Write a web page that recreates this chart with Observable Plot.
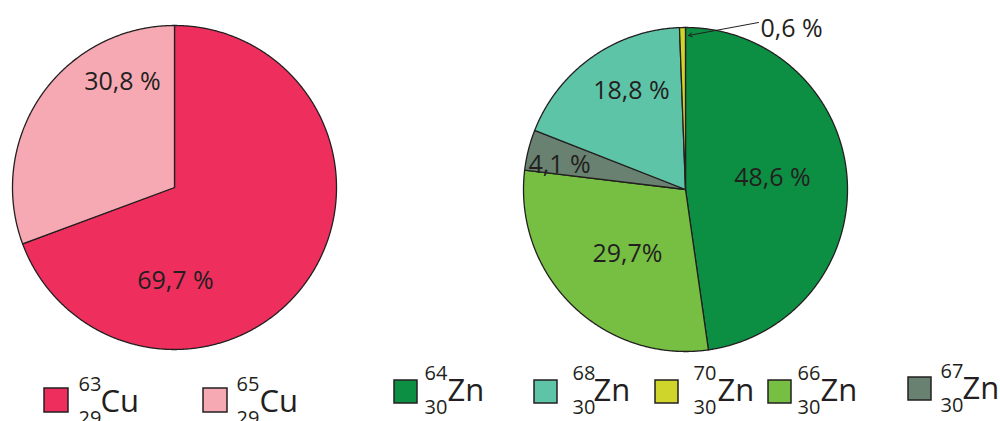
<!DOCTYPE html>
<html>
<head>
<meta charset="utf-8">
<script src="https://cdn.jsdelivr.net/npm/d3@7"></script>
<script src="https://cdn.jsdelivr.net/npm/@observablehq/plot@0.6"></script>
<style>
  html, body { margin: 0; padding: 0; background: #fff; }
  #chart { width: 1000px; height: 421px; overflow: hidden; }
</style>
</head>
<body>
<div id="chart"></div>
<script>
// ---------- data ----------
const cuIsotopes = ["63Cu", "65Cu"];
const cuValues = [69.7, 30.8];
const cuLabels = ["69,7 %", "30,8 %"];

const znIsotopes = ["64Zn", "66Zn", "67Zn", "68Zn", "70Zn"];
const znValues = [48.6, 29.7, 4.1, 18.8, 0.6];
const znLabels = ["48,6 %", "29,7%", "4,1 %", "18,8 %", "0,6 %"];

const legendKeys = ["63Cu", "65Cu", "64Zn", "68Zn", "70Zn", "66Zn", "67Zn"];
const legendMass = ["63", "65", "64", "68", "70", "66", "67"];
const legendZ = ["29", "29", "30", "30", "30", "30", "30"];
const legendSymbol = ["Cu", "Cu", "Zn", "Zn", "Zn", "Zn", "Zn"];

const colorDomain = ["63Cu", "65Cu", "64Zn", "68Zn", "70Zn", "66Zn", "67Zn"];
const colorRange = ["#ee2f5e", "#f6a9b3", "#0d8f43", "#5ec4a8", "#cfd52a", "#76bf43", "#688170"];

// ---------- layout ----------
const ink = "#231f20";
const font = "Open Sans";
const cuPie = {cx: 174, cy: 187, r: 162};
const znPie = {cx: 685, cy: 189, r: 162};
const cuLabelOffsets = [[1, 93], [-52, -106]];
const znLabelOffsets = [[87, -12], [-58, 64], [-126, -25], [-54, -99], [75, -161]];
const leader = {x1: 758, y1: 22, x2: 688, y2: 35};
// legend: square left x, square top y, superscript x, symbol x, baseline y
const legendLayout = [
  {sqX: 44, sqY: 388, size: 24, supX: 78, symX: 100, base: 411},
  {sqX: 203, sqY: 388, size: 24, supX: 236, symX: 259, base: 411},
  {sqX: 394, sqY: 380, size: 23, supX: 424, symX: 447, base: 400},
  {sqX: 534, sqY: 380, size: 23, supX: 572, symX: 593, base: 400},
  {sqX: 655, sqY: 380, size: 23, supX: 693, symX: 717, base: 400},
  {sqX: 768, sqY: 380, size: 23, supX: 797, symX: 820, base: 400},
  {sqX: 908, sqY: 377, size: 23, supX: 940, symX: 962, base: 398}
];

// ---------- geometry from values ----------
const pie = d3.pie().sort(null).startAngle(0).endAngle(2 * Math.PI);
function slicePolygons(keys, values, p) {
  const pts = [];
  pie(values).forEach((a, i) => {
    const key = keys[i];
    pts.push({key, x: p.cx, y: p.cy});
    const n = Math.max(2, Math.ceil((a.endAngle - a.startAngle) / 0.005));
    for (let k = 0; k <= n; k++) {
      const t = a.startAngle + (a.endAngle - a.startAngle) * k / n;
      pts.push({key, x: p.cx + p.r * Math.sin(t), y: p.cy - p.r * Math.cos(t)});
    }
  });
  return pts;
}
const polys = [...slicePolygons(cuIsotopes, cuValues, cuPie), ...slicePolygons(znIsotopes, znValues, znPie)];

const labels = [
  ...cuLabels.map((t, i) => ({text: t, x: cuPie.cx + cuLabelOffsets[i][0], y: cuPie.cy + cuLabelOffsets[i][1], anchor: "middle"})),
  ...znLabels.map((t, i) => ({text: t, x: znPie.cx + znLabelOffsets[i][0], y: znPie.cy + znLabelOffsets[i][1], anchor: i === 4 ? "start" : "middle"}))
];

const legend = legendKeys.map((k, i) => ({key: k, mass: legendMass[i], z: legendZ[i], symbol: legendSymbol[i], ...legendLayout[i]}));

const chart = Plot.plot({
  width: 1000,
  height: 421,
  margin: 0,
  x: {domain: [0, 1000], range: [0, 1000], axis: null},
  y: {domain: [0, 421], range: [0, 421], axis: null},
  color: {domain: colorDomain, range: colorRange},
  style: {background: "white", fontFamily: font},
  marks: [
    Plot.line(polys, {x: "x", y: "y", z: "key", fill: "key", stroke: ink, strokeWidth: 1.3, curve: "linear-closed", strokeLinejoin: "round"}),
    Plot.arrow([leader], {x1: "x1", y1: "y1", x2: "x2", y2: "y2", stroke: ink, strokeWidth: 1, headLength: 6}),
    Plot.text(labels.filter(d => d.anchor === "middle"), {x: "x", y: "y", text: "text", fill: ink, fontSize: 25, textAnchor: "middle", lineAnchor: "middle", fontFamily: font}),
    Plot.text(labels.filter(d => d.anchor === "start"), {x: "x", y: "y", text: "text", fill: ink, fontSize: 25, textAnchor: "start", lineAnchor: "middle", fontFamily: font}),
    // legend squares
    Plot.rect(legend, {x1: "sqX", x2: d => d.sqX + d.size, y1: "sqY", y2: d => d.sqY + d.size, fill: "key", stroke: ink, strokeWidth: 1.5}),
    // mass numbers (superscript)
    Plot.text(legend, {x: "supX", y: d => d.base - 21, text: "mass", fill: ink, fontSize: 20, textAnchor: "start", lineAnchor: "bottom", fontFamily: font}),
    // atomic numbers (subscript)
    Plot.text(legend, {x: "supX", y: d => d.base + 13, text: "z", fill: ink, fontSize: 20, textAnchor: "start", lineAnchor: "bottom", fontFamily: font}),
    // element symbols
    Plot.text(legend, {x: "symX", y: "base", text: "symbol", fill: ink, fontSize: 31, textAnchor: "start", lineAnchor: "bottom", fontFamily: font})
  ]
});
document.getElementById("chart").appendChild(chart);
</script>
</body>
</html>
